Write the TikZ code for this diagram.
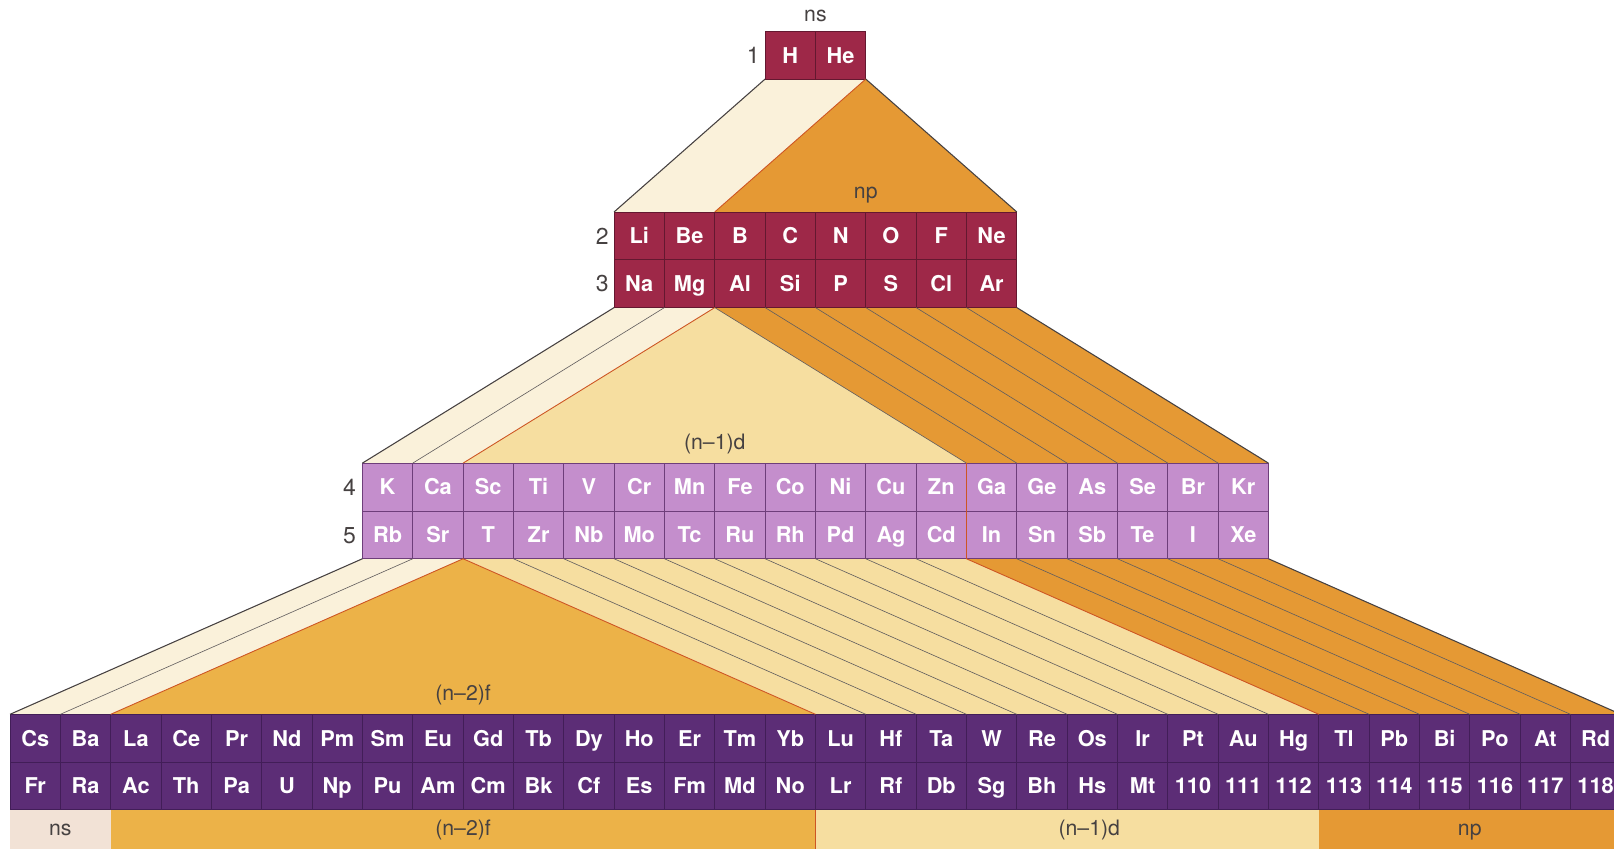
\documentclass[tikz,border=0pt]{standalone}
\usepackage{fontspec}
\setmainfont{TeX Gyre Heros}
\usepackage{tikz}
\usetikzlibrary{positioning, backgrounds}

\definecolor{crim}{RGB}{158,40,72}
\definecolor{crimline}{RGB}{100,24,48}
\definecolor{orch}{RGB}{196,142,204}
\definecolor{orchline}{RGB}{110,62,122}
\definecolor{plum}{RGB}{92,45,118}
\definecolor{plumline}{RGB}{66,30,88}
\definecolor{ornp}{RGB}{229,153,52}
\definecolor{ornf}{RGB}{236,178,72}
\definecolor{crmd}{RGB}{246,222,160}
\definecolor{crms}{RGB}{250,241,218}
\definecolor{pnks}{RGB}{242,226,214}
\definecolor{edgered}{RGB}{205,85,35}
\definecolor{inkgray}{RGB}{70,65,65}

\tikzset{
  cell/.style={draw, line width=0.5pt, minimum width=1cm, minimum height=0.95cm,
    inner sep=0pt, outer sep=0pt, text=white,
    font=\fontsize{12.3}{14}\selectfont\bfseries, text height=8.9pt, text depth=0pt},
  cellr/.style={cell, fill=crim, draw=crimline},
  cellm/.style={cell, fill=orch, draw=orchline},
  cellv/.style={cell, fill=plum, draw=plumline},
  lbl/.style={inner sep=0pt, text=inkgray, font=\fontsize{12}{14}\selectfont,
    text height=9pt, text depth=2.5pt},
  period/.style={lbl, font=\fontsize{13}{15}\selectfont, text height=9.4pt, text depth=0pt},
  band/.style={lbl, minimum height=0.78cm, outer sep=0pt, anchor=north west},
  rim/.style={draw=inkgray, line width=0.6pt},
  strip/.style={draw=inkgray!85, line width=0.35pt},
  seam/.style={draw=edgered, line width=0.5pt},
}

\begin{document}
\begin{tikzpicture}
  \useasboundingbox (0,0) rectangle (32.065,16.871);

  %PERIODO 1
  \node[cellr] (H) at (15.7,15.775) {H};
  \node[cellr, right=0pt of H] (He) {He};

  %PERIODOS 2 Y 3
  \node[cellr] (Li) at (12.7,12.185) {Li};
  \node[cellr, right=0pt of Li] (Be) {Be};
  \node[cellr, right=0pt of Be] (B) {B};
  \node[cellr, right=0pt of B] (C) {C};
  \node[cellr, right=0pt of C] (N) {N};
  \node[cellr, right=0pt of N] (O) {O};
  \node[cellr, right=0pt of O] (F) {F};
  \node[cellr, right=0pt of F] (Ne) {Ne};
  \node[cellr, below=0pt of Li] (Na) {Na};
  \node[cellr, right=0pt of Na] (Mg) {Mg};
  \node[cellr, right=0pt of Mg] (Al) {Al};
  \node[cellr, right=0pt of Al] (Si) {Si};
  \node[cellr, right=0pt of Si] (P) {P};
  \node[cellr, right=0pt of P] (S) {S};
  \node[cellr, right=0pt of S] (Cl) {Cl};
  \node[cellr, right=0pt of Cl] (Ar) {Ar};

  %PERIODOS 4 Y 5
  \node[cellm] (K) at (7.7,7.195) {K};
  \node[cellm, right=0pt of K] (Ca) {Ca};
  \node[cellm, right=0pt of Ca] (Sc) {Sc};
  \node[cellm, right=0pt of Sc] (Ti) {Ti};
  \node[cellm, right=0pt of Ti] (V) {V};
  \node[cellm, right=0pt of V] (Cr) {Cr};
  \node[cellm, right=0pt of Cr] (Mn) {Mn};
  \node[cellm, right=0pt of Mn] (Fe) {Fe};
  \node[cellm, right=0pt of Fe] (Co) {Co};
  \node[cellm, right=0pt of Co] (Ni) {Ni};
  \node[cellm, right=0pt of Ni] (Cu) {Cu};
  \node[cellm, right=0pt of Cu] (Zn) {Zn};
  \node[cellm, right=0pt of Zn] (Ga) {Ga};
  \node[cellm, right=0pt of Ga] (Ge) {Ge};
  \node[cellm, right=0pt of Ge] (As) {As};
  \node[cellm, right=0pt of As] (Se) {Se};
  \node[cellm, right=0pt of Se] (Br) {Br};
  \node[cellm, right=0pt of Br] (Kr) {Kr};
  \node[cellm, below=0pt of K] (Rb) {Rb};
  \node[cellm, right=0pt of Rb] (Sr) {Sr};
  \node[cellm, right=0pt of Sr] (Y) {T};
  \node[cellm, right=0pt of Y] (Zr) {Zr};
  \node[cellm, right=0pt of Zr] (Nb) {Nb};
  \node[cellm, right=0pt of Nb] (Mo) {Mo};
  \node[cellm, right=0pt of Mo] (Tc) {Tc};
  \node[cellm, right=0pt of Tc] (Ru) {Ru};
  \node[cellm, right=0pt of Ru] (Rh) {Rh};
  \node[cellm, right=0pt of Rh] (Pd) {Pd};
  \node[cellm, right=0pt of Pd] (Ag) {Ag};
  \node[cellm, right=0pt of Ag] (Cd) {Cd};
  \node[cellm, right=0pt of Cd] (In) {In};
  \node[cellm, right=0pt of In] (Sn) {Sn};
  \node[cellm, right=0pt of Sn] (Sb) {Sb};
  \node[cellm, right=0pt of Sb] (Te) {Te};
  \node[cellm, right=0pt of Te] (I) {I};
  \node[cellm, right=0pt of I] (Xe) {Xe};

  %PERIODOS 6 Y 7
  \node[cellv] (Cs) at (0.7,2.205) {Cs};
  \node[cellv, right=0pt of Cs] (Ba) {Ba};
  \node[cellv, right=0pt of Ba] (La) {La};
  \node[cellv, right=0pt of La] (Ce) {Ce};
  \node[cellv, right=0pt of Ce] (Pr) {Pr};
  \node[cellv, right=0pt of Pr] (Nd) {Nd};
  \node[cellv, right=0pt of Nd] (Pm) {Pm};
  \node[cellv, right=0pt of Pm] (Sm) {Sm};
  \node[cellv, right=0pt of Sm] (Eu) {Eu};
  \node[cellv, right=0pt of Eu] (Gd) {Gd};
  \node[cellv, right=0pt of Gd] (Tb) {Tb};
  \node[cellv, right=0pt of Tb] (Dy) {Dy};
  \node[cellv, right=0pt of Dy] (Ho) {Ho};
  \node[cellv, right=0pt of Ho] (Er) {Er};
  \node[cellv, right=0pt of Er] (Tm) {Tm};
  \node[cellv, right=0pt of Tm] (Yb) {Yb};
  \node[cellv, right=0pt of Yb] (Lu) {Lu};
  \node[cellv, right=0pt of Lu] (Hf) {Hf};
  \node[cellv, right=0pt of Hf] (Ta) {Ta};
  \node[cellv, right=0pt of Ta] (W) {W};
  \node[cellv, right=0pt of W] (Re) {Re};
  \node[cellv, right=0pt of Re] (Os) {Os};
  \node[cellv, right=0pt of Os] (Ir) {Ir};
  \node[cellv, right=0pt of Ir] (Pt) {Pt};
  \node[cellv, right=0pt of Pt] (Au) {Au};
  \node[cellv, right=0pt of Au] (Hg) {Hg};
  \node[cellv, right=0pt of Hg] (Tl) {Tl};
  \node[cellv, right=0pt of Tl] (Pb) {Pb};
  \node[cellv, right=0pt of Pb] (Bi) {Bi};
  \node[cellv, right=0pt of Bi] (Po) {Po};
  \node[cellv, right=0pt of Po] (At) {At};
  \node[cellv, right=0pt of At] (Rd) {Rd};
  \node[cellv, below=0pt of Cs] (Fr) {Fr};
  \node[cellv, right=0pt of Fr] (Ra) {Ra};
  \node[cellv, right=0pt of Ra] (Ac) {Ac};
  \node[cellv, right=0pt of Ac] (Th) {Th};
  \node[cellv, right=0pt of Th] (Pa) {Pa};
  \node[cellv, right=0pt of Pa] (U) {U};
  \node[cellv, right=0pt of U] (Np) {Np};
  \node[cellv, right=0pt of Np] (Pu) {Pu};
  \node[cellv, right=0pt of Pu] (Am) {Am};
  \node[cellv, right=0pt of Am] (Cm) {Cm};
  \node[cellv, right=0pt of Cm] (Bk) {Bk};
  \node[cellv, right=0pt of Bk] (Cf) {Cf};
  \node[cellv, right=0pt of Cf] (Es) {Es};
  \node[cellv, right=0pt of Es] (Fm) {Fm};
  \node[cellv, right=0pt of Fm] (Md) {Md};
  \node[cellv, right=0pt of Md] (No) {No};
  \node[cellv, right=0pt of No] (Lr) {Lr};
  \node[cellv, right=0pt of Lr] (Rf) {Rf};
  \node[cellv, right=0pt of Rf] (Db) {Db};
  \node[cellv, right=0pt of Db] (Sg) {Sg};
  \node[cellv, right=0pt of Sg] (Bh) {Bh};
  \node[cellv, right=0pt of Bh] (Hs) {Hs};
  \node[cellv, right=0pt of Hs] (Mt) {Mt};
  \node[cellv, right=0pt of Mt] (e110) {110};
  \node[cellv, right=0pt of e110] (e111) {111};
  \node[cellv, right=0pt of e111] (e112) {112};
  \node[cellv, right=0pt of e112] (e113) {113};
  \node[cellv, right=0pt of e113] (e114) {114};
  \node[cellv, right=0pt of e114] (e115) {115};
  \node[cellv, right=0pt of e115] (e116) {116};
  \node[cellv, right=0pt of e116] (e117) {117};
  \node[cellv, right=0pt of e117] (e118) {118};

  %ROTULOS
  \node[period, left=0.1cm of H] (per1) {1};
  \node[period, left=0.1cm of Li] (per2) {2};
  \node[period, left=0.1cm of Na] (per3) {3};
  \node[period, left=0.12cm of K] (per4) {4};
  \node[period, left=0.12cm of Rb] (per5) {5};
  \node[lbl, above=0.1cm of H.north east] (lns) {ns};
  \node[lbl, above=0.18cm of N.north east] (lnp) {np};
  \node[lbl, above=0.18cm of Mn.north east] (lnd) {(n--1)d};
  \node[lbl, above=0.18cm of Eu.north east] (lnf) {(n--2)f};

  %EMBUDOS
  \begin{scope}[on background layer]
    \fill[white] (0,0) rectangle (32.065,16.871);
    \fill[crms] (H.south west) -- (He.south east) -- (Be.north east) -- (Li.north west) -- cycle;
    \fill[ornp] (He.south east) -- (Ne.north east) -- (B.north west) -- cycle;
    \fill[crms] (Na.south west) -- (Mg.south east) -- (Ca.north east) -- (K.north west) -- cycle;
    \fill[crmd] (Mg.south east) -- (Zn.north east) -- (Sc.north west) -- cycle;
    \fill[ornp] (Al.south west) -- (Ar.south east) -- (Kr.north east) -- (Ga.north west) -- cycle;
    \fill[crms] (Rb.south west) -- (Sr.south east) -- (Ba.north east) -- (Cs.north west) -- cycle;
    \fill[ornf] (Sr.south east) -- (Yb.north east) -- (La.north west) -- cycle;
    \fill[crmd] (Y.south west) -- (Cd.south east) -- (Hg.north east) -- (Lu.north west) -- cycle;
    \fill[ornp] (In.south west) -- (Xe.south east) -- (Rd.north east) -- (Tl.north west) -- cycle;
    \node[band, fill=pnks, minimum width=2cm] (bns) at (Fr.south west) {ns};
    \node[band, fill=ornf, minimum width=14cm] (bnf) at (Ac.south west) {(n--2)f};
    \node[band, fill=crmd, minimum width=10cm] (bnd) at (Lr.south west) {\hspace*{0.88cm}(n--1)d};
    \node[band, fill=ornp, minimum width=6cm] (bnp) at (e113.south west) {np};
  \end{scope}

  \draw[rim] (H.south west) -- (Li.north west);
  \draw[seam] (He.south east) -- (B.north west);
  \draw[rim] (He.south east) -- (Ne.north east);

  \draw[rim] (Na.south west) -- (K.north west);
  \draw[strip] (Mg.south west) -- (Ca.north west);
  \draw[seam] (Mg.south east) -- (Sc.north west);
  \draw[strip] (Al.south west) -- (Ga.north west);
  \draw[strip] (Si.south west) -- (Ge.north west) (P.south west) -- (As.north west)
    (S.south west) -- (Se.north west) (Cl.south west) -- (Br.north west)
    (Ar.south west) -- (Kr.north west);
  \draw[rim] (Ar.south east) -- (Kr.north east);
  \draw[seam] (Zn.north east) -- (Cd.south east);

  \draw[rim] (Rb.south west) -- (Cs.north west);
  \draw[strip] (Sr.south west) -- (Ba.north west);
  \draw[seam] (Sr.south east) -- (La.north west);
  \draw[seam] (Sr.south east) -- (Lu.north west);
  \draw[strip] (Zr.south west) -- (Hf.north west) (Nb.south west) -- (Ta.north west)
    (Mo.south west) -- (W.north west) (Tc.south west) -- (Re.north west)
    (Ru.south west) -- (Os.north west) (Rh.south west) -- (Ir.north west)
    (Pd.south west) -- (Pt.north west) (Ag.south west) -- (Au.north west)
    (Cd.south west) -- (Hg.north west);
  \draw[seam] (In.south west) -- (Tl.north west);
  \draw[strip] (Sn.south west) -- (Pb.north west) (Sb.south west) -- (Bi.north west)
    (Te.south west) -- (Po.north west) (I.south west) -- (At.north west)
    (Xe.south west) -- (Rd.north west);
  \draw[rim] (Xe.south east) -- (Rd.north east);
  \draw[seam] (bnf.north east) -- (bnf.south east);
\end{tikzpicture}
\end{document}
